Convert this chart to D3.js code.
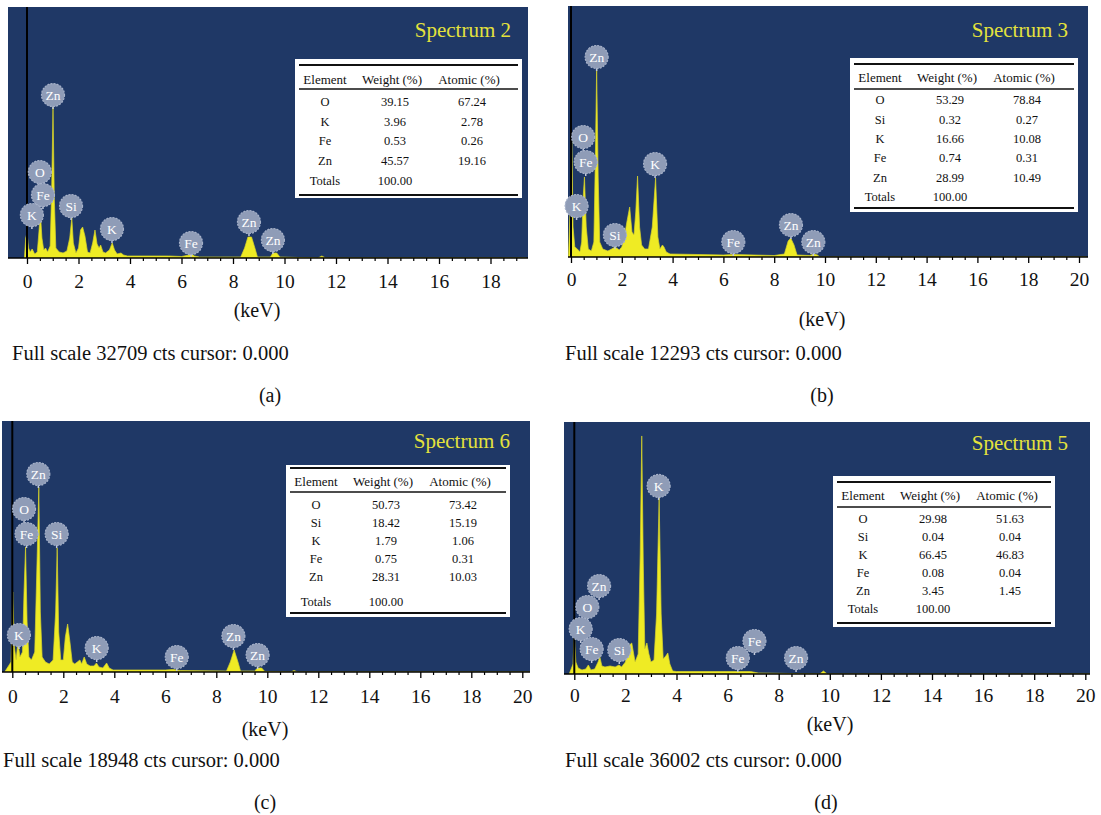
<!DOCTYPE html>
<html>
<head>
<meta charset="utf-8">
<script src="https://cdn.jsdelivr.net/npm/d3@7/dist/d3.min.js"></script>
<style>
  html, body { margin: 0; padding: 0; background: #ffffff; }
  svg { display: block; }
  text { font-family: "Liberation Serif", "DejaVu Serif", serif; }
</style>
</head>
<body>
<svg id="fig" width="1101" height="815"></svg>
<script>
// ---------- EDS spectra: [energy keV, counts] ----------
const spectrum2 = [
  [-0.1,0],[-0.05,2606],[0.0,3258],[0.06,1303],[0.12,782],[0.2,1173],[0.3,521],[0.4,782],
  [0.46,3258],[0.52,5864],[0.58,2606],[0.65,1042],[0.72,1303],[0.8,782],[0.9,1564],
  [0.96,9121],[1.01,19675],[1.06,7818],[1.12,1303],[1.25,782],[1.4,652],[1.55,912],
  [1.66,2606],[1.74,5212],[1.8,1955],[1.9,652],[2.0,1303],[2.08,3648],[2.16,4039],
  [2.25,2867],[2.35,782],[2.45,652],[2.55,1955],[2.64,3648],[2.72,1824],[2.8,1303],
  [2.86,1694],[2.95,782],[3.05,652],[3.2,1042],[3.31,1955],[3.4,1042],[3.5,521],
  [3.65,652],[3.75,391],[3.9,261],[5.5,261],[6.0,195],[6.3,391],[6.4,521],[6.5,261],
  [6.7,130],[8.3,130],[8.45,1303],[8.58,2736],[8.72,2736],[8.85,1303],[8.95,130],
  [9.45,130],[9.55,652],[9.7,652],[9.82,130],[11.3,0],[11.45,261],[11.6,0],[19.4,0]
];
const spectrum3 = [
  [-0.1,0],[-0.02,2939],[0.03,6122],[0.08,1469],[0.15,490],[0.25,392],[0.35,245],
  [0.42,735],[0.48,2939],[0.53,3918],[0.6,1469],[0.68,392],[0.8,294],[0.9,735],
  [0.96,4898],[1.01,9257],[1.07,3918],[1.13,735],[1.25,392],[1.45,294],[1.6,392],
  [1.74,490],[1.9,343],[2.0,490],[2.1,980],[2.2,1714],[2.31,2449],[2.4,1224],
  [2.48,1078],[2.55,2204],[2.62,3967],[2.7,1469],[2.78,588],[2.9,392],[3.05,392],
  [3.2,1469],[3.33,3869],[3.42,980],[3.5,392],[3.6,588],[3.66,490],[3.75,245],
  [3.9,147],[6.0,98],[6.4,122],[8.0,73],[8.4,147],[8.55,784],[8.65,931],[8.78,588],
  [8.9,98],[9.4,73],[9.55,147],[9.7,98],[9.8,0],[20.3,0]
];
const spectrum6 = [
  [-0.3,0],[-0.05,755],[0.02,6040],[0.08,1888],[0.15,906],[0.22,2265],[0.3,1133],
  [0.4,1510],[0.46,6040],[0.52,9438],[0.58,3775],[0.65,1133],[0.75,906],[0.88,1510],
  [0.98,9060],[1.04,13968],[1.1,4530],[1.17,1133],[1.3,755],[1.45,604],[1.6,906],
  [1.7,4530],[1.76,9362],[1.82,3020],[1.9,906],[2.0,906],[2.08,2643],[2.17,3624],
  [2.26,2265],[2.35,755],[2.45,604],[2.55,755],[2.65,906],[2.72,604],[2.82,1133],
  [2.92,604],[3.05,453],[3.2,453],[3.3,680],[3.4,378],[3.55,302],[3.7,680],[3.8,302],
  [3.95,151],[6.0,151],[6.3,189],[6.6,113],[8.4,76],[8.55,755],[8.7,1661],[8.85,755],
  [8.95,76],[9.5,76],[9.62,302],[9.78,302],[9.9,38],[10.9,0],[11.05,113],[11.2,0],[20.3,0]
];
const spectrum5 = [
  [-0.2,0],[-0.05,1429],[0.0,5859],[0.06,1715],[0.15,857],[0.3,572],[0.45,715],
  [0.55,1286],[0.65,572],[0.8,715],[0.93,1715],[1.0,2429],[1.08,1143],[1.2,1000],
  [1.4,1143],[1.6,1000],[1.75,1286],[1.85,1000],[2.0,1715],[2.12,4001],[2.25,4430],
  [2.38,1715],[2.5,2858],[2.58,17148],[2.64,34010],[2.7,15719],[2.76,3573],[2.84,4430],
  [2.92,2858],[3.0,1715],[3.12,2001],[3.22,8574],[3.32,25150],[3.4,8574],[3.48,2144],
  [3.58,2572],[3.66,3001],[3.74,1429],[3.85,429],[4.0,357],[6.9,357],[7.2,143],
  [9.6,0],[9.75,429],[9.9,0],[20.3,0]
];

// ---------- peak identification labels: [element, keV, counts at marker tip] ----------
const labels2 = [["Zn",1.01,19415],["O",0.50,9382],["Fe",0.62,6385],["Si",1.71,4951],
  ["K",0.19,3779],["K",3.30,1955],["Fe",6.37,130],["Zn",8.62,2867],["Zn",9.55,521]];
const labels3 = [["Zn",1.01,9110],["O",0.48,5192],["Fe",0.58,3967],["K",3.31,3869],
  ["K",0.22,1812],["Si",1.73,392],["Fe",6.39,49],["Zn",8.66,882],["Zn",9.54,49]];
const labels6 = [["Zn",1.02,13892],["O",0.46,11250],["Fe",0.56,9362],["Si",1.74,9362],
  ["K",0.26,1737],["K",3.31,755],["Fe",6.45,76],["Zn",8.67,1661],["Zn",9.62,227]];
const labels5 = [["K",3.30,24865],["Zn",0.97,10575],["O",0.51,7574],["K",0.25,4430],
  ["Fe",0.68,1572],["Si",1.76,1429],["Fe",7.05,2715],["Fe",6.40,286],["Zn",8.68,286]];

// ---------- quantification tables ----------
const tableHeader = ["Element", "Weight (%)", "Atomic (%)"];
const elements2 = ["O", "K", "Fe", "Zn"];
const weight2 = ["39.15", "3.96", "0.53", "45.57"];
const atomic2 = ["67.24", "2.78", "0.26", "19.16"];
const elements3 = ["O", "Si", "K", "Fe", "Zn"];
const weight3 = ["53.29", "0.32", "16.66", "0.74", "28.99"];
const atomic3 = ["78.84", "0.27", "10.08", "0.31", "10.49"];
const elements6 = ["O", "Si", "K", "Fe", "Zn"];
const weight6 = ["50.73", "18.42", "1.79", "0.75", "28.31"];
const atomic6 = ["73.42", "15.19", "1.06", "0.31", "10.03"];
const elements5 = ["O", "Si", "K", "Fe", "Zn"];
const weight5 = ["29.98", "0.04", "66.45", "0.08", "3.45"];
const atomic5 = ["51.63", "0.04", "46.83", "0.04", "1.45"];
const totalWeight = "100.00";

// ---------- axis ticks ----------
const majorTicks18 = [0, 2, 4, 6, 8, 10, 12, 14, 16, 18];
const majorTicks20 = [0, 2, 4, 6, 8, 10, 12, 14, 16, 18, 20];

// ---------- panel layout ----------
const panels = [
  { tag: "(a)", title: "Spectrum 2", fullScale: 32709, spec: spectrum2, labels: labels2,
    els: elements2, wt: weight2, at: atomic2, majors: majorTicks18,
    box: [8, 7, 528, 258], zeroX: 27, ppk: 25.75,
    titleX: 511, titleY: 30,
    tickY: 281, unitX: 257, unitY: 310, noteX: 12, noteY: 353, tagX: 270, tagY: 395,
    tbl: { x: 295, y: 59, w: 227, h: 139, top: 65, head: 79, headRule: 89,
           row0: 102, step: 19.5, totals: 181, bottom: 195 } },
  { tag: "(b)", title: "Spectrum 3", fullScale: 12293, spec: spectrum3, labels: labels3,
    els: elements3, wt: weight3, at: atomic3, majors: majorTicks20,
    box: [568, 6, 1088, 257], zeroX: 571, ppk: 25.4,
    titleX: 1068, titleY: 30,
    tickY: 279, unitX: 822, unitY: 319, noteX: 565, noteY: 353, tagX: 822, tagY: 395,
    tbl: { x: 850, y: 58, w: 228, h: 154, top: 64, head: 77, headRule: 89,
           row0: 100, step: 19.3, totals: 197, bottom: 208 } },
  { tag: "(c)", title: "Spectrum 6", fullScale: 18948, spec: spectrum6, labels: labels6,
    els: elements6, wt: weight6, at: atomic6, majors: majorTicks20,
    box: [2, 421, 530, 672], zeroX: 12.3, ppk: 25.5,
    titleX: 510, titleY: 441,
    tickY: 696, unitX: 265, unitY: 729, noteX: 3, noteY: 760, tagX: 265, tagY: 802,
    tbl: { x: 286, y: 465, w: 224, h: 152, top: 468, head: 481, headRule: 492,
           row0: 505, step: 18, totals: 602, bottom: 613 } },
  { tag: "(d)", title: "Spectrum 5", fullScale: 36002, spec: spectrum5, labels: labels5,
    els: elements5, wt: weight5, at: atomic5, majors: majorTicks20,
    box: [564, 422, 1090, 674], zeroX: 574.3, ppk: 25.55,
    titleX: 1068, titleY: 443,
    tickY: 695, unitX: 830, unitY: 724, noteX: 565, noteY: 760, tagX: 826, tagY: 802,
    tbl: { x: 833, y: 476, w: 222, h: 151, top: 482, head: 495, headRule: 507,
           row0: 519, step: 18, totals: 609, bottom: 623 } }
];

const svg = d3.select("#fig");
svg.append("rect").attr("width", 1101).attr("height", 815).attr("fill", "#ffffff");

const BG = "#1f3866", YEL = "#efeb24", BADGE = "#8f9cb7";

panels.forEach((p, pi) => {
  const [x0, y0, x1, y1] = p.box;
  const g = svg.append("g");

  const x = d3.scaleLinear().domain([0, 20]).range([p.zeroX, p.zeroX + 20 * p.ppk]);
  const y = d3.scaleLinear().domain([0, p.fullScale]).range([y1, y0]);

  g.append("rect").attr("x", x0).attr("y", y0).attr("width", x1 - x0).attr("height", y1 - y0)
    .attr("fill", BG);

  const clipId = "clip" + pi;
  g.append("clipPath").attr("id", clipId).append("rect")
    .attr("x", x0).attr("y", y0).attr("width", x1 - x0).attr("height", y1 - y0);

  // spectrum
  const area = d3.area().x(d => x(d[0])).y0(y(0)).y1(d => y(d[1])).curve(d3.curveLinear);
  g.append("path").datum(p.spec).attr("clip-path", `url(#${clipId})`)
    .attr("d", area).attr("fill", YEL).attr("stroke", "#d8d42a").attr("stroke-width", 0.7);

  // zero-energy marker line
  g.append("line").attr("x1", x(0)).attr("x2", x(0)).attr("y1", y0).attr("y2", y1)
    .attr("stroke", "#000").attr("stroke-width", 2);

  // title
  g.append("text").attr("x", p.titleX).attr("y", p.titleY).attr("dy", "0.35em")
    .attr("text-anchor", "end").attr("font-size", 21).attr("fill", "#e4e23c").text(p.title);

  // peak labels
  const lg = g.selectAll("g.badge").data(p.labels).enter().append("g").attr("class", "badge")
    .attr("transform", d => `translate(${x(d[1])},${y(d[2])})`);
  lg.append("line").attr("x1", 0).attr("x2", 0).attr("y1", 0).attr("y2", -12)
    .attr("stroke", "#c3cadb").attr("stroke-width", 1.5);
  lg.append("circle").attr("cx", 0).attr("cy", -14).attr("r", 11.5)
    .attr("fill", BADGE).attr("stroke", "#a7b2c9").attr("stroke-width", 1.2)
    .attr("stroke-dasharray", "2 1.2");
  lg.append("text").attr("x", 0).attr("y", -14).attr("dy", "0.35em").attr("text-anchor", "middle")
    .attr("font-size", 13.5).attr("fill", "#ffffff").text(d => d[0]);

  // axis
  const hi = x.invert(x1);
  const minors = d3.range(0, Math.floor(hi * 2) / 2 + 0.001, 0.5).filter(v => v % 2 !== 0);
  const ax = g.append("g").attr("transform", `translate(0,${y1})`);
  ax.append("line").attr("x1", x0).attr("x2", x1).attr("y1", 0).attr("y2", 0)
    .attr("stroke", "#000").attr("stroke-width", 1.5);
  const majorAxis = d3.axisBottom(x).tickValues(p.majors).tickSize(6).tickSizeOuter(0)
    .tickPadding(8).tickFormat(d3.format("d"));
  const ma = ax.append("g").call(majorAxis);
  ma.select(".domain").remove();
  ma.selectAll("line").attr("stroke-width", 1.3);
  ma.selectAll("text").attr("font-size", 19.5).attr("fill", "#111")
    .attr("font-family", "'Liberation Serif', serif")
    .attr("y", p.tickY - y1).attr("dy", "0.35em");
  const minorAxis = d3.axisBottom(x).tickValues(minors).tickSize(3).tickSizeOuter(0).tickFormat("");
  const mi = ax.append("g").call(minorAxis);
  mi.select(".domain").remove();
  mi.selectAll("line").attr("stroke-width", 1.2);

  g.append("text").attr("x", p.unitX).attr("y", p.unitY).attr("dy", "0.35em")
    .attr("text-anchor", "middle").attr("font-size", 20).attr("fill", "#111").text("(keV)");
  g.append("text").attr("x", p.noteX).attr("y", p.noteY).attr("dy", "0.35em")
    .attr("font-size", 20.5).attr("fill", "#111")
    .text(`Full scale ${p.fullScale} cts cursor: 0.000`);
  g.append("text").attr("x", p.tagX).attr("y", p.tagY).attr("dy", "0.35em")
    .attr("text-anchor", "middle").attr("font-size", 20).attr("fill", "#111").text(p.tag);

  // quantification table
  const t = p.tbl;
  const tg = g.append("g");
  tg.append("rect").attr("x", t.x).attr("y", t.y).attr("width", t.w).attr("height", t.h)
    .attr("fill", "#ffffff");
  const rule = (yy, w) => tg.append("line").attr("x1", t.x + 4).attr("x2", t.x + t.w - 4)
    .attr("y1", yy).attr("y2", yy).attr("stroke", "#111").attr("stroke-width", w);
  rule(t.top, 2); rule(t.headRule, 1.6); rule(t.bottom, 2);
  const colX = [t.x + 30, t.x + 97, t.x + 174];
  const valX = [t.x + 30, t.x + 100, t.x + 177];
  tableHeader.forEach((h, i) => {
    tg.append("text").attr("x", colX[i]).attr("y", t.head).attr("dy", "0.35em")
      .attr("text-anchor", "middle").attr("font-size", 13).attr("fill", "#111").text(h);
  });
  p.els.forEach((el, r) => {
    const yy = t.row0 + r * t.step;
    [el, p.wt[r], p.at[r]].forEach((v, i) => {
      tg.append("text").attr("x", valX[i]).attr("y", yy).attr("dy", "0.35em")
        .attr("text-anchor", "middle").attr("font-size", 12.5).attr("fill", "#111").text(v);
    });
  });
  tg.append("text").attr("x", colX[0]).attr("y", t.totals).attr("dy", "0.35em")
    .attr("text-anchor", "middle").attr("font-size", 12.5).attr("fill", "#111").text("Totals");
  tg.append("text").attr("x", valX[1]).attr("y", t.totals).attr("dy", "0.35em")
    .attr("text-anchor", "middle").attr("font-size", 12.5).attr("fill", "#111").text(totalWeight);
});
</script>
</body>
</html>
